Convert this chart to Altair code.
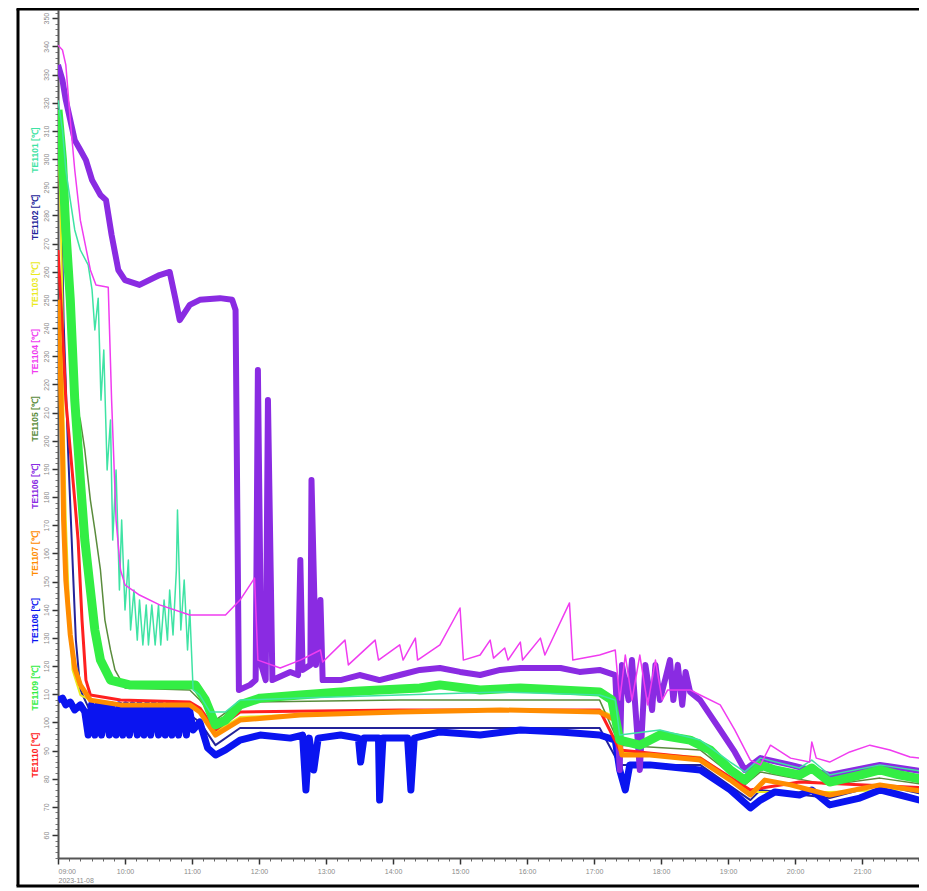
import altair as alt
import pandas as pd

DAY = "2023-11-08"

# legend order (top to bottom in the rotated legend column)
names = ["TE1101 [℃]", "TE1102 [℃]", "TE1103 [℃]", "TE1104 [℃]", "TE1105 [℃]",
         "TE1106 [℃]", "TE1107 [℃]", "TE1108 [℃]", "TE1109 [℃]", "TE1110 [℃]"]
colors = ["#3fe3a4", "#23239a", "#eaea1e", "#f03cf0", "#5a8c3c",
          "#8a2be2", "#ff8c00", "#0a14f0", "#33ee44", "#ff2020"]
widths = [1.5, 2, 2, 1.5, 1.5, 6, 5, 7, 9, 3]

# ---- series (clock time, value) ----
teal_t = ["09:00", "09:04", "09:07", "09:11", "09:15", "09:20", "09:27", "09:30:30", "09:33", "09:36",
          "09:38:30", "09:41", "09:44", "09:47", "09:49", "09:52", "09:55", "09:57", "10:00", "10:03",
          "10:05", "10:08", "10:11", "10:13", "10:16", "10:19", "10:21", "10:24", "10:27", "10:30",
          "10:32", "10:35", "10:38", "10:40", "10:43", "10:46", "10:47", "10:50", "10:53", "10:56",
          "10:58", "11:01", "11:07", "11:16", "11:30", "11:43", "12:37", "14:06", "15:36", "17:05",
          "17:19", "17:23", "17:59", "18:35", "19:02", "19:15", "19:29", "20:04", "20:15", "20:31",
          "21:16", "21:58"]
teal_v = [320.9, 310.3, 296.1, 285.4, 274.8, 267.7, 262.4, 253.5, 239.3, 250.6,
          214.4, 232.2, 189.6, 207.3, 164.7, 189.6, 147.0, 171.8, 139.9, 157.6,
          132.8, 147.0, 129.2, 143.4, 127.5, 141.7, 127.5, 141.7, 127.5, 141.7,
          127.5, 143.4, 129.2, 147.0, 131.0, 154.1, 175.4, 132.8, 150.5, 125.7,
          139.9, 111.5, 109.7, 103.7, 103.7, 107.9, 108.6, 109.7, 110.8, 109.7,
          107.9, 95.5, 97.3, 93.7, 85.9, 82.4, 87.3, 83.8, 86.6, 81.3,
          84.9, 82.4]

navy_t = ["09:00", "09:03", "09:05", "09:09", "09:13", "09:16", "09:20", "09:29", "10:58", "11:07",
          "11:21", "11:43", "17:05", "17:23", "18:35", "19:20", "19:29", "20:31", "21:16", "21:58"]
navy_v = [315.6, 285.4, 242.8, 196.7, 157.6, 129.2, 111.5, 103.7, 102.6, 100.1,
          91.9, 98.0, 98.0, 84.9, 84.9, 72.4, 76.0, 73.1, 77.8, 74.2]

yellow_t = ["09:00", "09:02", "09:04", "09:05", "09:07", "09:10", "09:13", "09:20", "09:38", "10:58",
            "11:07", "11:21", "11:43", "14:06", "17:05", "17:19", "17:25", "18:35", "19:20", "20:31",
            "21:58"]
yellow_v = [312.0, 285.4, 250.0, 207.3, 171.8, 139.9, 118.6, 109.7, 106.2, 106.2,
            104.4, 96.6, 101.9, 104.4, 104.4, 101.9, 89.5, 87.7, 75.3, 75.3,
            76.4]

magenta_t = ["09:00", "09:04", "09:07", "09:11", "09:15", "09:20", "09:29", "09:34", "09:45", "09:48",
             "09:52", "09:56", "10:00", "10:13", "10:31", "10:58", "11:30", "11:43", "11:56", "11:59",
             "12:19", "12:37", "12:55", "12:57", "13:17", "13:20", "13:44", "13:47", "14:06", "14:09",
             "14:20", "14:22", "14:42", "15:00", "15:03", "15:18", "15:27", "15:30", "15:40", "15:43",
             "15:54", "15:56", "16:12", "16:16", "16:38", "16:41", "17:05", "17:19", "17:23", "17:28",
             "17:34", "17:41", "17:48", "17:55", "18:01", "18:06", "18:26", "18:35", "18:53", "19:06",
             "19:20", "19:29", "19:38", "19:56", "20:13", "20:15", "20:19", "20:31", "20:49", "21:07",
             "21:25", "21:43", "21:58"]
magenta_v = [340.4, 338.7, 333.4, 313.8, 296.1, 278.3, 260.6, 255.3, 254.5, 214.4,
             171.8, 154.1, 148.8, 145.2, 141.7, 138.1, 138.1, 143.4, 151.2, 122.1,
             119.3, 122.1, 125.7, 121.4, 129.2, 120.4, 129.2, 122.1, 127.5, 122.1,
             129.9, 122.1, 127.5, 140.6, 122.1, 123.9, 129.2, 122.8, 126.4, 122.1,
             128.5, 122.1, 129.9, 123.9, 142.4, 122.1, 123.9, 125.7, 107.9, 123.9,
             107.9, 123.9, 106.2, 122.1, 107.9, 111.5, 111.5, 109.7, 106.2, 97.3,
             86.6, 84.9, 91.9, 87.3, 85.9, 93.0, 87.3, 85.9, 89.5, 91.9,
             90.2, 87.7, 87.0]

olive_t = ["09:00", "09:04", "09:07", "09:11", "09:15", "09:20", "09:24", "09:29", "09:33", "09:38",
           "09:42", "09:47", "09:51", "10:00", "10:58", "11:07", "11:21", "11:43", "14:06", "17:05",
           "17:23", "18:35", "19:15", "19:29", "20:31", "21:16", "21:58"]
olive_v = [306.7, 292.5, 267.7, 239.3, 214.4, 207.3, 196.7, 178.9, 168.3, 154.1,
           136.3, 125.7, 118.6, 112.2, 111.5, 107.9, 100.8, 107.2, 107.9, 107.9,
           91.9, 90.2, 77.8, 82.4, 77.8, 80.2, 77.8]

purple_t = ["09:00", "09:04", "09:07", "09:11", "09:15", "09:20", "09:25", "09:30:30", "09:38", "09:43",
            "09:48", "09:54", "10:00", "10:13", "10:31", "10:40", "10:45", "10:49", "10:58", "11:07",
            "11:25", "11:36", "11:39", "11:42", "11:52", "11:57", "11:59", "12:02", "12:06", "12:08",
            "12:12", "12:28", "12:35", "12:37", "12:39", "12:46", "12:47", "12:51", "12:55", "12:57",
            "13:13", "13:30", "13:48", "14:06", "14:24", "14:42", "15:00", "15:18", "15:36", "15:54",
            "16:30", "16:47", "17:05", "17:19", "17:23", "17:25", "17:31", "17:34", "17:41", "17:46",
            "17:52", "17:55", "17:59", "18:04", "18:08", "18:11", "18:15", "18:19", "18:22", "18:26",
            "18:35", "18:53", "19:06", "19:15", "19:29", "19:56", "20:31", "21:16", "21:58"]
purple_v = [333.4, 328.0, 320.9, 313.8, 306.7, 303.2, 299.6, 292.5, 287.2, 285.4,
            273.0, 260.6, 257.0, 255.3, 258.8, 259.9, 250.6, 242.8, 248.2, 250.0,
            250.6, 250.0, 246.4, 111.5, 113.3, 115.0, 225.1, 120.4, 115.0, 214.4,
            115.0, 117.9, 116.8, 157.6, 118.6, 120.4, 186.0, 120.4, 143.4, 115.0,
            115.0, 116.8, 115.0, 116.8, 118.6, 119.3, 117.9, 116.8, 118.6, 119.3,
            119.3, 117.9, 118.6, 116.8, 83.1, 120.4, 107.9, 122.1, 83.1, 120.4,
            104.4, 120.4, 107.9, 115.7, 122.1, 107.9, 120.4, 106.2, 117.9, 110.8,
            107.9, 97.3, 89.5, 83.1, 87.3, 84.9, 81.3, 84.9, 82.4]

orange_t = ["09:00", "09:02", "09:04", "09:05", "09:07", "09:11", "09:15", "09:20", "09:29", "09:56",
            "10:58", "11:07", "11:21", "11:43", "12:37", "14:06", "15:36", "17:05", "17:19", "17:25",
            "17:50", "18:35", "19:02", "19:20", "19:33", "19:56", "20:31", "21:16", "21:58"]
orange_v = [250.0, 225.1, 196.7, 171.8, 150.5, 131.0, 119.3, 113.3, 107.9, 106.2,
            106.2, 103.7, 95.5, 100.8, 102.6, 103.7, 104.4, 103.7, 100.8, 88.4,
            88.4, 86.6, 79.5, 74.2, 79.5, 77.8, 74.2, 77.8, 75.3]

blue_t = ["09:00", "09:04", "09:07", "09:11", "09:15", "09:20", "09:24",
          "09:27", "09:30", "09:33", "09:36", "09:39", "09:42", "09:46", "09:48", "09:52", "09:55",
          "09:58", "10:01", "10:04", "10:07", "10:11", "10:13", "10:17", "10:20", "10:23", "10:26",
          "10:30", "10:32", "10:36", "10:39", "10:42", "10:45", "10:48", "10:51", "10:55", "10:57",
          "11:01", "11:07", "11:14", "11:21", "11:30", "11:43", "12:01", "12:28", "12:39", "12:42",
          "12:45", "12:49", "12:53", "13:13", "13:29", "13:31", "13:34", "13:47", "13:48", "13:51",
          "14:13", "14:16", "14:19", "14:42", "15:18", "15:54", "16:30", "17:05", "17:19", "17:23",
          "17:28", "17:32", "17:50", "18:35", "19:02", "19:20", "19:29", "19:42", "20:04", "20:15",
          "20:31", "20:58", "21:16", "21:34", "21:58"]
blue_v = [107.9, 108.6, 106.2, 107.2, 104.4, 106.2, 103.7,
          95.5, 106.2, 95.5, 106.2, 95.5, 106.2, 95.5, 106.2, 95.5, 106.2,
          95.5, 106.2, 95.5, 106.2, 95.5, 106.2, 95.5, 106.2, 95.5, 106.2,
          95.5, 106.2, 95.5, 106.2, 95.5, 106.2, 95.5, 106.2, 95.5, 106.2,
          97.3, 100.1, 90.9, 88.4, 90.2, 93.7, 95.5, 94.4, 95.5, 76.0,
          94.4, 83.1, 94.4, 95.5, 94.4, 85.9, 94.4, 94.4, 72.4, 94.4,
          94.4, 76.0, 94.4, 96.6, 95.5, 97.3, 96.6, 95.5, 93.7, 83.1,
          76.0, 84.9, 84.9, 83.1, 76.0, 69.6, 72.4, 75.3, 74.2, 76.0,
          70.7, 73.1, 76.0, 74.2, 71.7]

green_t = ["09:00", "09:04", "09:07", "09:11", "09:15", "09:20", "09:24", "09:29", "09:33", "09:38",
           "09:47", "10:04", "10:31", "11:03", "11:12", "11:21", "11:30", "11:43", "12:01", "12:37",
           "13:13", "13:48", "14:24", "14:42", "15:18", "15:54", "16:30", "17:05", "17:16", "17:23",
           "17:41", "17:59", "18:26", "18:44", "19:02", "19:15", "19:29", "19:42", "20:04", "20:15",
           "20:31", "20:58", "21:16", "21:34", "21:58"]
green_v = [317.4, 299.6, 274.8, 250.0, 214.4, 186.0, 164.7, 147.0, 132.8, 122.1,
           115.0, 113.3, 113.3, 113.3, 107.9, 99.1, 100.8, 106.2, 108.6, 109.7,
           110.8, 111.5, 112.2, 113.3, 111.5, 112.2, 111.5, 110.8, 107.9, 93.7,
           91.9, 95.5, 93.7, 90.2, 83.1, 79.5, 84.9, 83.1, 81.3, 83.8,
           78.8, 81.3, 83.1, 81.3, 79.5]

red_t = ["09:00", "09:04", "09:07", "09:11", "09:15", "09:18", "09:21:30", "09:25", "09:29", "09:56",
         "10:58", "11:07", "11:21", "11:43", "14:06", "17:05", "17:23", "18:35", "19:20", "20:04",
         "21:58"]
red_v = [267.7, 239.3, 214.4, 196.7, 178.9, 164.7, 136.3, 115.0, 109.7, 107.9,
         107.2, 105.1, 97.3, 103.7, 104.4, 104.4, 90.2, 87.3, 76.0, 78.8,
         76.7]

series = {
    "TE1101 [℃]": (teal_t, teal_v),
    "TE1102 [℃]": (navy_t, navy_v),
    "TE1103 [℃]": (yellow_t, yellow_v),
    "TE1104 [℃]": (magenta_t, magenta_v),
    "TE1105 [℃]": (olive_t, olive_v),
    "TE1106 [℃]": (purple_t, purple_v),
    "TE1107 [℃]": (orange_t, orange_v),
    "TE1108 [℃]": (blue_t, blue_v),
    "TE1109 [℃]": (green_t, green_v),
    "TE1110 [℃]": (red_t, red_v),
}
draw_order = ["TE1102 [℃]", "TE1103 [℃]", "TE1105 [℃]", "TE1108 [℃]", "TE1106 [℃]",
              "TE1110 [℃]", "TE1107 [℃]", "TE1109 [℃]", "TE1101 [℃]", "TE1104 [℃]"]

y_ticks = list(range(60, 360, 10))
y_minor = [v / 2 for v in range(104, 706, 4)]  # every 2 units


def to_frame(name):
    t, v = series[name]
    if len(t) != len(v):
        raise ValueError(f"{name}: {len(t)} times vs {len(v)} values")
    stamps = [f"{DAY}T{s}" if len(s) == 8 else f"{DAY}T{s}:00" for s in t]
    return pd.DataFrame({"t": stamps, "v": v, "series": name})


W, H = 861, 848
x_scale = alt.Scale(domain=[alt.DateTime(year=2023, month=11, date=8, hours=9, minutes=0),
                            alt.DateTime(year=2023, month=11, date=8, hours=21, minutes=51)])
y_scale = alt.Scale(domain=[51.84, 352.9], nice=False, zero=False)
color_scale = alt.Scale(domain=names, range=colors)

hour_vals = [alt.DateTime(year=2023, month=11, date=8, hours=h) for h in range(9, 22)]
minor_vals = [alt.DateTime(year=2023, month=11, date=8, hours=9 + m // 60, minutes=m % 60)
              for m in range(0, 780, 10)]

lines = []
for name in draw_order:
    i = names.index(name)
    lines.append(
        alt.Chart(to_frame(name)).mark_line(strokeWidth=widths[i], clip=True, strokeJoin="round").encode(
            x=alt.X("t:T", scale=x_scale, axis=None),
            y=alt.Y("v:Q", scale=y_scale, axis=None),
            color=alt.Color("series:N", scale=color_scale, legend=None),
        )
    )

base_df = to_frame("TE1108 [℃]")
major_axes = alt.Chart(base_df).mark_point(opacity=0).encode(
    x=alt.X("t:T", scale=x_scale, title=None, axis=alt.Axis(
        orient="bottom", values=hour_vals, format="%H:%M", grid=False, labelFontSize=7,
        labelColor="#8a8a8a", labelFont="Liberation Sans", tickColor="#333", tickSize=6, tickWidth=1.5,
        domainColor="#555", domainWidth=2, labelPadding=3,
        labelExpr="hours(datum.value) == 9 ? ['09:00', '2023-11-08'] : timeFormat(datum.value, '%H:%M')")),
    y=alt.Y("v:Q", scale=y_scale, title=None, axis=alt.Axis(
        orient="left", values=y_ticks, grid=False, labelFontSize=7, labelColor="#8a8a8a",
        labelFont="Liberation Sans", labelAngle=270, tickColor="#333", tickSize=6, tickWidth=1.5,
        domainColor="#555", domainWidth=2, labelPadding=3)),
)
minor_axes = alt.Chart(base_df).mark_point(opacity=0).encode(
    x=alt.X("t:T", scale=x_scale, title=None, axis=alt.Axis(
        orient="bottom", values=minor_vals, labels=False, domain=False, grid=False,
        tickColor="#666", tickSize=3)),
    y=alt.Y("v:Q", scale=y_scale, title=None, axis=alt.Axis(
        orient="left", values=y_minor, labels=False, domain=False, grid=False,
        tickColor="#777", tickSize=3)),
)

plot = alt.layer(minor_axes, major_axes, *lines).resolve_axis(x="independent", y="independent")

legend_df = pd.DataFrame({"series": names})
legend = alt.Chart(legend_df).mark_text(angle=270, fontSize=8.5, fontWeight="bold",
                                        font="Liberation Sans").encode(
    x=alt.value(-23),
    y=alt.Y("series:N", sort=names, scale=alt.Scale(type="point", range=[140, 745], padding=0), axis=None),
    text="series:N",
    color=alt.Color("series:N", scale=color_scale, legend=None),
)

one = pd.DataFrame({"k": [0]})
frame_left = alt.Chart(one).mark_rule(color="black", strokeWidth=3).encode(
    x=alt.value(-40), y=alt.value(-1), y2=alt.value(876))
frame_top = alt.Chart(one).mark_rule(color="black", strokeWidth=3).encode(
    x=alt.value(-41.5), x2=alt.value(W + 30), y=alt.value(-1))
frame_bottom = alt.Chart(one).mark_rule(color="black", strokeWidth=3).encode(
    x=alt.value(-41.5), x2=alt.value(W + 30), y=alt.value(876))

chart = alt.layer(plot, alt.layer(frame_left, frame_top, frame_bottom, legend)).resolve_scale(
    y="independent").properties(
    width=W, height=H,
    autosize=alt.AutoSizeParams(type="none"),
    padding={"left": 50, "top": 2, "right": 0, "bottom": 30},
    background="white",
).configure_view(strokeWidth=0, stroke="transparent")

chart.save("out.html", embed_options={"renderer": "svg", "actions": False})
